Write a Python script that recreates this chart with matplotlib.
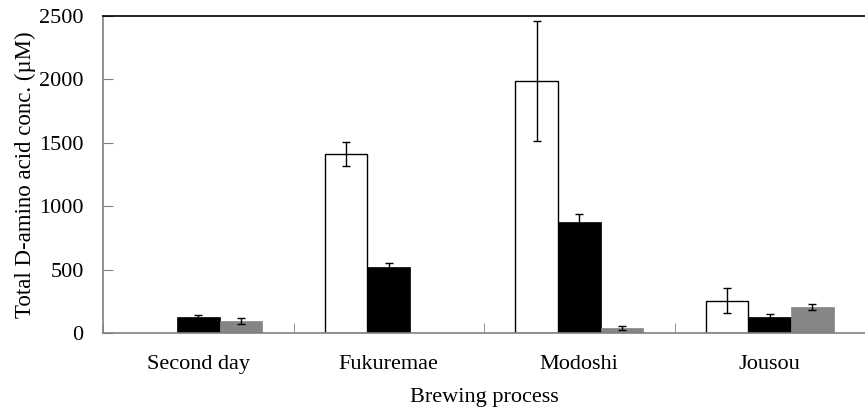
import matplotlib.pyplot as plt
import numpy as np

plt.rcParams["font.family"] = ["Liberation Serif", "DejaVu Serif"]

stages = ["Second day", "Fukuremae", "Modoshi", "Jousou"]

# total D-amino acid concentration (uM) for the three series, with SD
white_mean = [0, 1410, 1987, 255]
white_sd = [0, 93, 470, 96]
black_mean = [126, 520, 875, 129]
black_sd = [15, 36, 62, 18]
gray_mean = [95, 0, 40, 205]
gray_sd = [26, 0, 18, 27]

fig = plt.figure(figsize=(8.65, 4.07), dpi=100)
ax = fig.add_axes([0.1191, 0.1818, 0.8809, 0.7789])

x = np.arange(len(stages))
w = 0.224
err_kw = dict(ecolor="black", elinewidth=1, capsize=3, capthick=1)


def edges(means, color):
    # no outline for empty bars
    return [color if m > 0 else "none" for m in means]


def errs(means, sds):
    return [s if m > 0 else np.nan for m, s in zip(means, sds)]


ax.bar(x - w, white_mean, w, color="white", edgecolor=edges(white_mean, "black"),
       linewidth=1, yerr=errs(white_mean, white_sd), error_kw=err_kw)
ax.bar(x, black_mean, w, color="black", edgecolor=edges(black_mean, "black"),
       linewidth=0.5, yerr=errs(black_mean, black_sd), error_kw=err_kw)
ax.bar(x + w, gray_mean, w, color="#858585", edgecolor=edges(gray_mean, "#858585"),
       linewidth=0.5, yerr=errs(gray_mean, gray_sd), error_kw=err_kw)

ax.set_xlim(-0.5, 3.5)
ax.set_ylim(0, 2500)
ax.set_yticks(np.arange(0, 2501, 500))
ax.set_xticks(x)
ax.set_xticklabels(stages, fontsize=16)
ax.set_xticks(np.arange(-0.5, 3.6, 1), minor=True)
ax.tick_params(axis="x", which="major", length=0, pad=16)
ax.tick_params(axis="x", which="minor", direction="in", length=7, color="#808080")
ax.tick_params(axis="y", direction="in", length=7, color="#808080", labelsize=16, pad=14)

for side in ["left", "bottom"]:
    ax.spines[side].set_color("#808080")
    ax.spines[side].set_linewidth(1.2)
ax.spines["top"].set_color("black")
ax.spines["top"].set_linewidth(1.2)
ax.spines["right"].set_visible(False)

ax.set_xlabel("Brewing process", fontsize=16, labelpad=10)
ax.set_ylabel("Total D-amino acid conc. (\u00b5M)", fontsize=16.5, labelpad=2)

fig.savefig("out.png", dpi=100)
